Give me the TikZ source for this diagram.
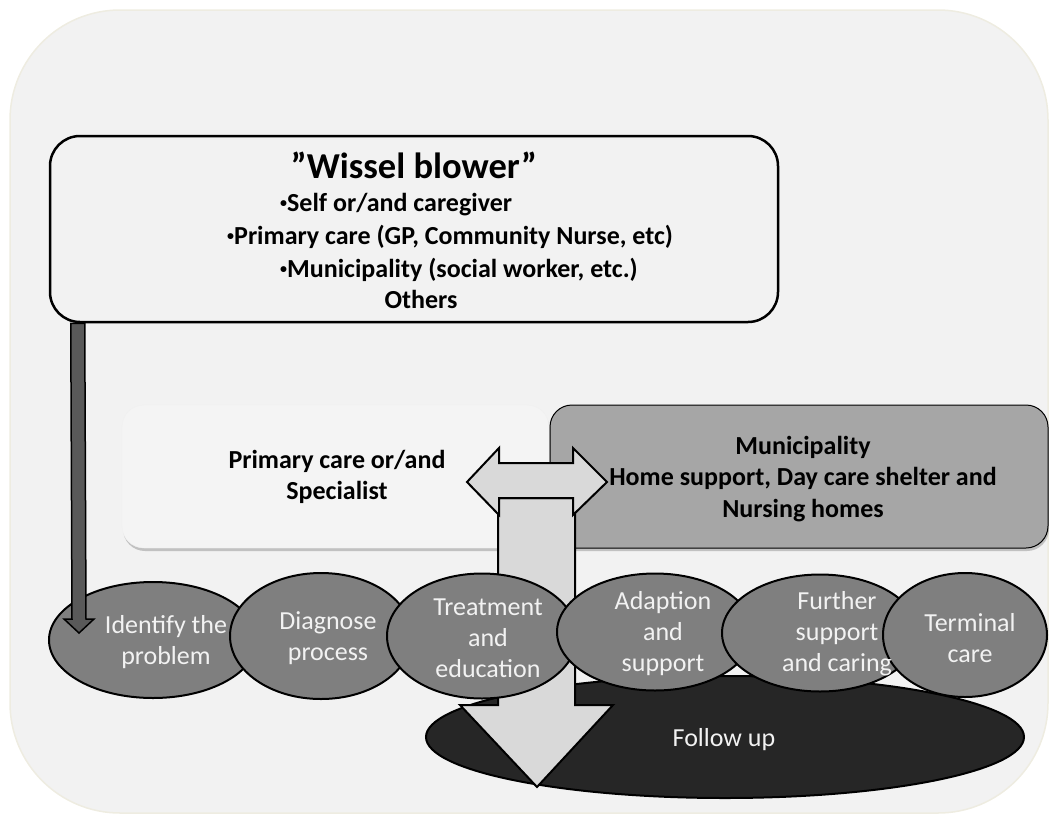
\documentclass[tikz,border=0pt]{standalone}
\usepackage{fontspec}
\setmainfont{Carlito}
\usetikzlibrary{shapes.geometric,shadows,calc}

\definecolor{panel}{HTML}{F2F2F2}
\definecolor{panelrim}{HTML}{EEECE1}
\definecolor{lightbox}{HTML}{F4F4F4}
\definecolor{munigray}{HTML}{A6A6A6}
\definecolor{stepgray}{HTML}{7F7F7F}
\definecolor{steptext}{HTML}{F2F2F2}
\definecolor{followfill}{HTML}{262626}
\definecolor{arrowlight}{HTML}{D9D9D9}
\definecolor{arrowdark}{HTML}{595959}

\newcommand\stepfont{\fontsize{26}{31}\selectfont}
\newcommand\boxfont{\fontsize{26}{31.5}\selectfont\bfseries}
\newcommand\smallbullet{\raisebox{4pt}{\fontsize{14}{14}\selectfont•}}

\tikzset{
  stage/.style={ellipse, draw=black, line width=2pt, fill=stepgray, inner sep=0pt},
  stagetext/.style={align=center, text=steptext, font=\stepfont, inner sep=0pt},
  blockarrow/.style={draw=black, line width=2pt, line join=miter},
  boxshadow/.style={drop shadow={shadow xshift=1pt, shadow yshift=-3pt, opacity=0.35, fill=black!60}},
}

\begin{document}
\begin{tikzpicture}[x=1pt,y=-1pt]
\useasboundingbox (0,0) rectangle (1049,814);

% outer panel
\draw[fill=panel, draw=panelrim, line width=1.5pt, rounded corners=110pt]
  (10,10) rectangle (1048,813);

% care level boxes
\node[rectangle, rounded corners=22pt, fill=lightbox, draw=black!6, boxshadow,
      minimum width=427pt, minimum height=143pt, inner sep=0pt] (primary) at (335.5,476.5) {};
\node[rectangle, rounded corners=22pt, fill=munigray, draw=black, line width=1pt, boxshadow,
      minimum width=498pt, minimum height=143pt, inner sep=0pt] (muni) at (799,476.5) {};
\node[align=center, font=\boxfont, inner sep=0pt] (primarytext) at (337,477)
  {Primary care or/and\\Specialist};
\node[align=center, font=\boxfont, inner sep=0pt] (munitext) at (803,479)
  {Municipality\\Home support, Day care shelter and\\Nursing homes};

% follow-up ellipse
\node[ellipse, draw=black, line width=2pt, fill=followfill, inner sep=0pt,
      minimum width=598pt, minimum height=122pt] (follow) at (725,737) {};

% vertical flow arrow from the care boxes down to follow-up
\coordinate (flowtop) at (536.5,498);
\coordinate (flowtip) at (537,787);
\filldraw[blockarrow, fill=arrowlight]
  ($(flowtop)+(-38.5,0)$) -- ($(flowtop)+(38.5,0)$) -- ($(flowtip)+(38,-82)$)
  -- ($(flowtip)+(76,-82)$) -- (flowtip) -- ($(flowtip)+(-77,-82)$)
  -- ($(flowtip)+(-39,-82)$) -- cycle;

% two-way arrow between the two care boxes
\coordinate (lefttip) at (467,482);
\coordinate (righttip) at (607,482);
\filldraw[blockarrow, fill=arrowlight]
  (lefttip) -- ($(lefttip)+(32,-34)$) -- ($(lefttip)+(32,-19)$)
  -- ($(righttip)+(-34,-19)$) -- ($(righttip)+(-34,-34)$) -- (righttip)
  -- ($(righttip)+(-34,33)$) -- ($(righttip)+(-34,16)$)
  -- ($(lefttip)+(32,16)$) -- ($(lefttip)+(32,33)$) -- cycle;

% process stages
\node[stage, minimum width=208pt, minimum height=116pt] (identify)  at (153,640) {};
\node[stage, minimum width=182pt, minimum height=126pt] (diagnose)  at (321,636) {};
\node[stage, minimum width=190pt, minimum height=125pt] (treatment) at (482,636) {};
\node[stage, minimum width=196pt, minimum height=117pt] (adaption)  at (655,632) {};
\node[stage, minimum width=196pt, minimum height=117pt] (further)   at (820,633) {};
\node[stage, minimum width=164pt, minimum height=124pt] (terminal)  at (965,635) {};

\node[stagetext] (identifytext)  at (166,642) {Identify the\\problem};
\node[stagetext] (diagnosetext)  at (328,638) {Diagnose\\process};
\node[stagetext] (treatmenttext) at (488,638) {Treatment\\and\\education};
\node[stagetext] (adaptiontext)  at (663,634) {Adaption\\and\\support};
\node[stagetext] (furthertext)   at (837,634) {Further\\support\\and caring};
\node[stagetext] (terminaltext)  at (970,638) {Terminal\\care};
\node[stagetext] (followtext)    at (724,740) {Follow up};

% initiator box
\node[rectangle, rounded corners=30pt, fill=panel, draw=black, line width=2.5pt,
      minimum width=728pt, minimum height=186pt, inner sep=0pt] (wissel) at (414,229) {};
\node[anchor=base, font=\fontsize{36.5}{40}\selectfont\bfseries, inner sep=0pt] (wtitle)
  at (414,178) {”Wissel blower”};
\node[anchor=base west, font=\boxfont, inner sep=0pt] (wself)  at (280,211) {\smallbullet Self or/and caregiver};
\node[anchor=base west, font=\boxfont, inner sep=0pt] (wprim)  at (227,244) {\smallbullet Primary care (GP, Community Nurse, etc)};
\node[anchor=base west, font=\boxfont, inner sep=0pt] (wmuni)  at (280,277) {\smallbullet Municipality (social worker, etc.)};
\node[anchor=base, font=\boxfont, inner sep=0pt] (wother) at (421,308) {Others};

% arrow from the initiator box to the first stage
\coordinate (startpt) at ($(wissel.south west)+(29,0)$);
\coordinate (starttip) at (79,633);
\filldraw[draw=black, line width=1.5pt, fill=arrowdark, line join=miter]
  ($(startpt)+(-7,0)$) -- ($(starttip)+(-7,-14)$) -- ($(starttip)+(-15,-14)$)
  -- (starttip) -- ($(starttip)+(15,-14)$) -- ($(starttip)+(7,-14)$)
  -- ($(startpt)+(7,0)$) -- cycle;
\end{tikzpicture}
\end{document}
